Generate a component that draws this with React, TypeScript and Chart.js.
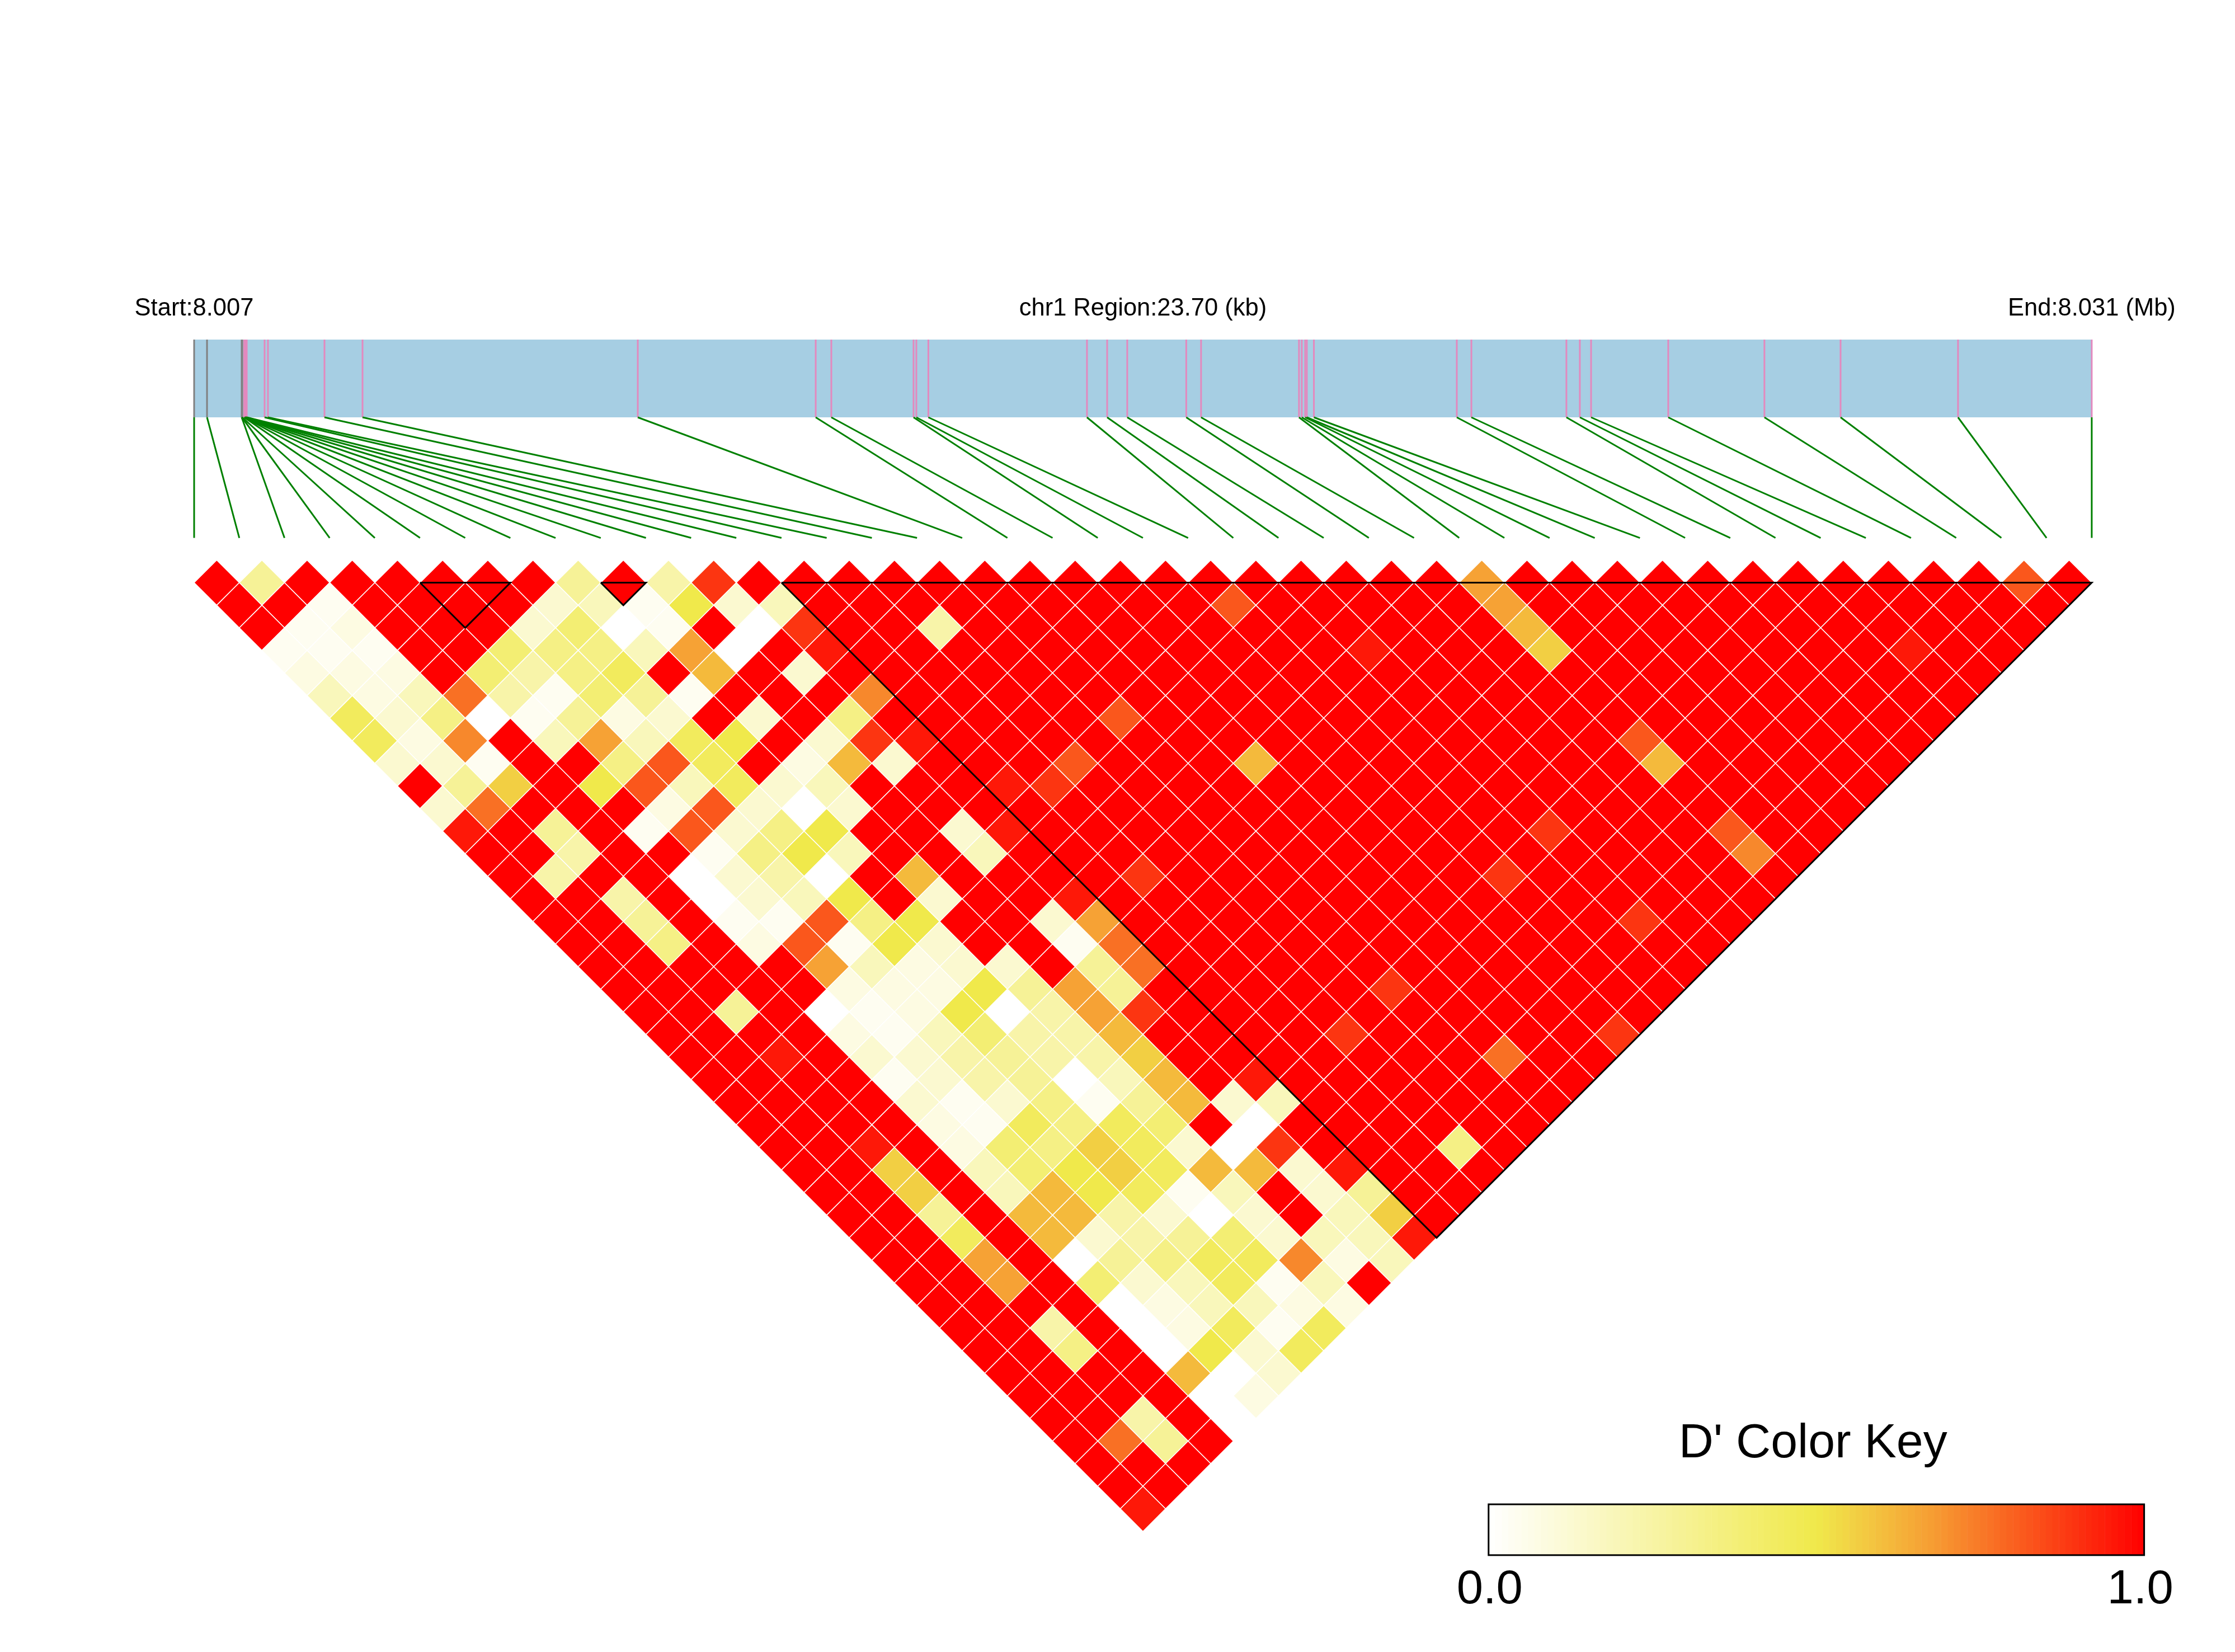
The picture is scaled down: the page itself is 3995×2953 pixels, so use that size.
import React, { useEffect, useRef } from "react";
import { Chart, registerables } from "chart.js";

Chart.register(...registerables);

// SNP positions along the region, in kb from the region start
const snpKb = [
  0, 0.161, 0.594, 0.597, 0.601, 0.625, 0.629, 0.632, 0.636, 0.639, 0.643, 0.65, 0.657,
  0.88, 0.922, 1.628, 2.103, 5.541, 7.763, 7.958, 8.985, 9.02, 9.17, 11.151, 11.403, 11.654,
  12.391, 12.576, 13.799, 13.834, 13.876, 13.897, 13.985, 15.77, 15.952, 17.139, 17.307,
  17.447, 18.411, 19.612, 20.563, 22.03, 23.7,
];
const regionKb = 23.7;
const graySnps = [0, 1, 2, 3, 4];

// D' levels used by the row codes below
const dLevels: Record<string, number> = {
  "0": 0, "1": 0.04, "2": 0.08, "3": 0.13, "4": 0.19, "5": 0.24, "6": 0.29, "7": 0.34,
  "8": 0.39, "9": 0.45, y: 0.5, k: 0.56, l: 0.61, m: 0.665, n: 0.72, o: 0.77, p: 0.82,
  q: 0.89, r: 0.95, X: 1,
};

// One string per distance between SNPs (distance 1 first), read left to right.
// Cells past the end of a string are D' = 1.
const dRows = [
  "X6XXX XXX6X 5qX",
  "XX1XX XX341 y34",
  "X12XX X3801 X0qXX 5",
  "111XX 8774m 0Xr",
  "222X8 579Xl X3",
  "424o5 1861X XXn",
  "93701 623X3 X7X",
  "92nX4 m49yX 3qr",
  "331XX 7p9X2 l3",
  "X6kXy p4934",
  "3oXXX 2p303",
  "rX6X1 p37yX X3r",
  "XX5XX 17y4X X4",
  "X5XX0 350Xl",
  "XX5X0 34yX3 XXr",
  "XX6X1 1p7yX X3m",
  "XX7X2 p1y3X X1o",
  "XXXXX m4233 X6o",
  "XXXXX 222y6 m6",
  "XX6X0 12y05 mq",
  "XXXX2 14855 l",
  "XXrX3 35655 k",
  "XXXX1 35604 lXr",
  "XXXX3 13716 l34",
  "XXXX2 19798 X0",
  "XXrX2 87k93 0q",
  "XXkX4 8yk9l l3r",
  "XXkX4 ly914 X36",
  "XX6Xl l5303 X4kX",
  "XX9Xl 35683 44r",
  "XXmX0 6799n 24",
  "XXmX8 34914 X",
  "XXXX0 24422",
  "XX5X0 2919",
  "XX7X0 y39",
  "XXXXl 03",
  "XXXX0 2",
  "XX5X0",
  "Xo6X",
  "XXX",
  "XX",
  "r",
];

// Lower values inside the high-LD block: [distance, first SNP, level code]
const blockCells: [number, number, string][] = [
  [1, 28, "m"], [1, 40, "p"], [2, 22, "p"], [2, 28, "m"], [3, 28, "l"], [4, 24, "r"],
  [4, 28, "k"], [4, 36, "r"], [7, 17, "p"], [8, 28, "p"], [9, 15, "p"], [9, 19, "l"],
  [9, 28, "l"], [10, 13, "r"], [10, 14, "q"], [12, 24, "q"], [12, 28, "p"], [13, 28, "n"],
  [14, 14, "q"], [14, 22, "q"], [16, 24, "q"], [19, 17, "q"], [21, 15, "q"], [21, 21, "q"],
  [22, 18, "o"], [26, 15, "7"],
];

// LD blocks as [first SNP, last SNP]
const ldBlocks = [[5, 7], [9, 10], [13, 42]];

const keySteps = 100;
const colorStops: [number, number[]][] = [
  [0, [255, 255, 255]],
  [0.5, [240, 233, 75]],
  [0.67, [246, 160, 52]],
  [1, [255, 0, 0]],
];

function dColor(v: number) {
  for (let k = 1; k < colorStops.length; k++) {
    const [a, ca] = colorStops[k - 1];
    const [b, cb] = colorStops[k];
    if (v <= b) {
      const t = (v - a) / (b - a);
      const c = ca.map((x, n) => Math.round(x + (cb[n] - x) * t));
      return `rgb(${c[0]},${c[1]},${c[2]})`;
    }
  }
  return "rgb(255,0,0)";
}

const nSnp = snpKb.length;
const kbToAxis = (kb: number) => (kb / regionKb) * (nSnp - 1);

const cells: { x: number; y: number; v: number }[] = [];
dRows.forEach((row, idx) => {
  const r = idx + 1;
  const codes = row.replace(/ /g, "").padEnd(nSnp - r, "X");
  for (let i = 0; i < nSnp - r; i++) {
    cells.push({ x: i + r / 2, y: r - 1, v: dLevels[codes[i]] });
  }
});
blockCells.forEach(([r, i, code]) => {
  const c = cells.find((p) => p.y === r - 1 && p.x === i + r / 2);
  if (c) c.v = dLevels[code];
});

const UNIT_X = 80.76;
const UNIT_Y = 40.38;
const ORIGIN_X = 347;
const ORIGIN_Y = 1041.5;
const W = 3995;
const H = 2953;

const BAND_TOP = -10.76;
const BAND_BOTTOM = -7.318;
const FAN_END = -1.98;
const HEADER_Y = -11.825;
const KEY = { x0: 28.65, x1: 43.16, y0: 40.8, y1: 43.05, titleY: 38.72, labelY: 45.18 };

const textPlugin = {
  id: "ldText",
  afterDatasetsDraw(chart: any) {
    const { ctx, scales } = chart;
    const px = (v: number) => scales.x.getPixelForValue(v);
    const py = (v: number) => scales.y.getPixelForValue(v);
    ctx.save();
    ctx.fillStyle = "#000";
    ctx.textAlign = "center";
    ctx.textBaseline = "alphabetic";
    ctx.font = '43.5px "Liberation Sans"';
    ctx.fillText("Start:8.007", px(0), py(HEADER_Y));
    ctx.fillText("chr1 Region:23.70 (kb)", px((nSnp - 1) / 2), py(HEADER_Y));
    ctx.fillText("End:8.031 (Mb)", px(nSnp - 1), py(HEADER_Y));

    const x0 = px(KEY.x0), x1 = px(KEY.x1), y0 = py(KEY.y0), y1 = py(KEY.y1);
    for (let k = 0; k < keySteps; k++) {
      ctx.fillStyle = dColor((k + 0.5) / keySteps);
      const a = x0 + ((x1 - x0) * k) / keySteps;
      const b = x0 + ((x1 - x0) * (k + 1)) / keySteps;
      ctx.fillRect(a, y0, b - a + 0.5, y1 - y0);
    }
    ctx.strokeStyle = "#000";
    ctx.lineWidth = 3;
    ctx.strokeRect(x0, y0, x1 - x0, y1 - y0);

    ctx.fillStyle = "#000";
    ctx.font = '86px "Liberation Sans"';
    ctx.fillText("D' Color Key", (x0 + x1) / 2 - 6, py(KEY.titleY));
    ctx.font = '85px "Liberation Sans"';
    ctx.fillText("0.0", x0 + 2, py(KEY.labelY));
    ctx.fillText("1.0", x1 - 7, py(KEY.labelY));
    ctx.restore();
  },
};

const lineBase = { type: "line", showLine: true, pointRadius: 0, fill: false, tension: 0 };

export default function App() {
  const ref = useRef<HTMLCanvasElement | null>(null);
  useEffect(() => {
    if (!ref.current) return;
    const datasets: any[] = [
      {
        ...lineBase,
        order: 50,
        data: [{ x: 0, y: BAND_TOP }, { x: nSnp - 1, y: BAND_TOP }],
        borderWidth: 0,
        borderColor: "rgba(0,0,0,0)",
        backgroundColor: "#A6CEE3",
        fill: { value: BAND_BOTTOM },
      },
      ...snpKb.map((kb, i) => ({
        ...lineBase,
        order: 40,
        data: [{ x: kbToAxis(kb), y: BAND_TOP }, { x: kbToAxis(kb), y: BAND_BOTTOM }],
        borderColor: graySnps.includes(i) ? "#808080" : "#E389BE",
        borderWidth: 3,
      })),
      ...snpKb.map((kb, i) => ({
        ...lineBase,
        order: 30,
        data: [{ x: kbToAxis(kb), y: BAND_BOTTOM }, { x: i, y: FAN_END }],
        borderColor: "#008000",
        borderWidth: 3,
      })),
      {
        type: "scatter",
        order: 20,
        data: cells.map((c) => ({ x: c.x, y: c.y })),
        pointStyle: "rectRot",
        pointRadius: UNIT_Y,
        pointHoverRadius: UNIT_Y,
        pointBorderWidth: 1.5,
        pointBorderColor: "#FFFFFF",
        pointBackgroundColor: cells.map((c) => dColor(c.v)),
      },
      ...ldBlocks.map(([a, b]) => ({
        ...lineBase,
        order: 10,
        data: [
          { x: a, y: 0 },
          { x: b, y: 0 },
          { x: (a + b) / 2, y: b - a },
          { x: a, y: 0 },
        ],
        borderColor: "#000000",
        borderWidth: 3,
        borderJoinStyle: "miter",
      })),
    ];
    const chart = new Chart(ref.current, {
      type: "scatter",
      data: { datasets },
      plugins: [textPlugin],
      options: {
        animation: false,
        responsive: false,
        devicePixelRatio: 1,
        events: [],
        layout: { padding: 0, autoPadding: false },
        plugins: { legend: { display: false }, tooltip: { enabled: false }, title: { display: false } },
        scales: {
          x: { type: "linear", display: false, min: -ORIGIN_X / UNIT_X, max: (W - ORIGIN_X) / UNIT_X },
          y: { type: "linear", display: false, reverse: true, min: -ORIGIN_Y / UNIT_Y, max: (H - ORIGIN_Y) / UNIT_Y },
        },
      },
    } as any);
    return () => chart.destroy();
  }, []);
  return (
    <canvas
      ref={ref}
      width={W}
      height={H}
      style={{ position: "absolute", left: 0, top: 0, width: W, height: H, display: "block", background: "#fff" }}
    />
  );
}
